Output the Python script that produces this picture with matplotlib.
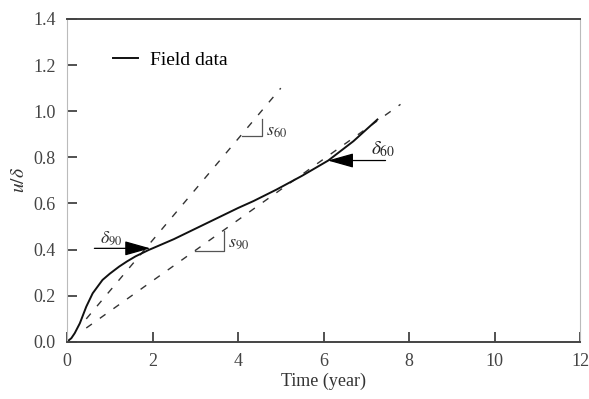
import numpy as np
import matplotlib.pyplot as plt
from matplotlib.ticker import FormatStrFormatter

plt.rcParams['font.family'] = ['Liberation Serif', 'DejaVu Serif']
plt.rcParams['mathtext.fontset'] = 'stix'

# measured settlement ratio u/delta vs time
time_yr = [0.0, 0.1, 0.18, 0.3, 0.45, 0.6, 0.83, 1.0, 1.22, 1.4, 1.6, 1.91, 2.0,
           2.5, 3.0, 3.5, 4.0, 4.36, 4.9, 5.5, 6.11, 6.7, 7.26]
u_delta = [0.0, 0.015, 0.037, 0.08, 0.152, 0.21, 0.268, 0.295, 0.326, 0.348, 0.37,
           0.398, 0.405, 0.445, 0.49, 0.535, 0.58, 0.61, 0.66, 0.72, 0.786, 0.87, 0.964]

# tangent lines: s60 and s90 slopes (1/year)
s60_slope, s60_range = 0.22, [0.45, 5.0]
s90_slope, s90_range = 0.132, [0.45, 7.8]

fig = plt.figure(figsize=(5.89, 3.99), dpi=100)
ax = fig.add_axes([0.1138, 0.1436, 0.871, 0.8088])

dash = (0, (5, 7))
x60 = np.array(s60_range)
x90 = np.array(s90_range)
ax.plot(x60, s60_slope * x60, color='#333333', lw=1.0, ls=dash)
ax.plot(x90, s90_slope * x90, color='#333333', lw=1.0, ls=dash)
ax.plot(time_yr, u_delta, color='#111111', lw=1.4, label='Field data')

# slope markers
ax.plot([4.09, 4.55, 4.55], [0.894, 0.894, 0.968], color='#555555', lw=0.9)
ax.text(4.65, 0.91, r'$s_{60}$', fontsize=13, color='#333333', va='center')
ax.plot([2.99, 3.68, 3.68], [0.394, 0.394, 0.481], color='#555555', lw=0.9)
ax.text(3.76, 0.43, r'$s_{90}$', fontsize=13, color='#333333', va='center')

# delta arrows
ax.annotate('', xy=(1.95, 0.405), xytext=(0.64, 0.405),
            arrowprops=dict(arrowstyle='-|>,head_length=1.6,head_width=0.45',
                            color='black', lw=0.9, shrinkA=0, shrinkB=0))
ax.text(0.76, 0.45, r'$\delta_{90}$', fontsize=13, color='#333333', va='center')
ax.annotate('', xy=(6.1, 0.786), xytext=(7.45, 0.786),
            arrowprops=dict(arrowstyle='-|>,head_length=1.6,head_width=0.45',
                            color='black', lw=0.9, shrinkA=0, shrinkB=0))
ax.text(7.1, 0.835, r'$\delta_{60}$', fontsize=14, color='#222222', va='center')

ax.legend(loc='upper left', bbox_to_anchor=(0.055, 0.955), frameon=False,
          handlelength=1.3, handletextpad=0.6, fontsize=14)

ax.set_xlim(0, 12)
ax.set_ylim(0, 1.4)
ax.set_xticks([0, 2, 4, 6, 8, 10, 12])
ax.set_yticks(np.arange(0, 1.41, 0.2))
ax.yaxis.set_major_formatter(FormatStrFormatter('%.1f'))

ax.tick_params(axis='both', direction='in', length=7, width=1.2, color='#333333',
               labelsize=13, labelcolor='#444444')
ax.tick_params(axis='x', pad=8)
ax.tick_params(axis='y', pad=8)

for side in ['top', 'bottom']:
    ax.spines[side].set_linewidth(1.4)
    ax.spines[side].set_color('#444444')
for side in ['left', 'right']:
    ax.spines[side].set_linewidth(0.8)
    ax.spines[side].set_color('#bbbbbb')

ax.set_xlabel('Time (year)', fontsize=13, color='#333333', labelpad=2)
ax.set_ylabel(r'$u/\delta$', fontsize=14, color='#333333', labelpad=4)

fig.savefig('out.png', dpi=100)
